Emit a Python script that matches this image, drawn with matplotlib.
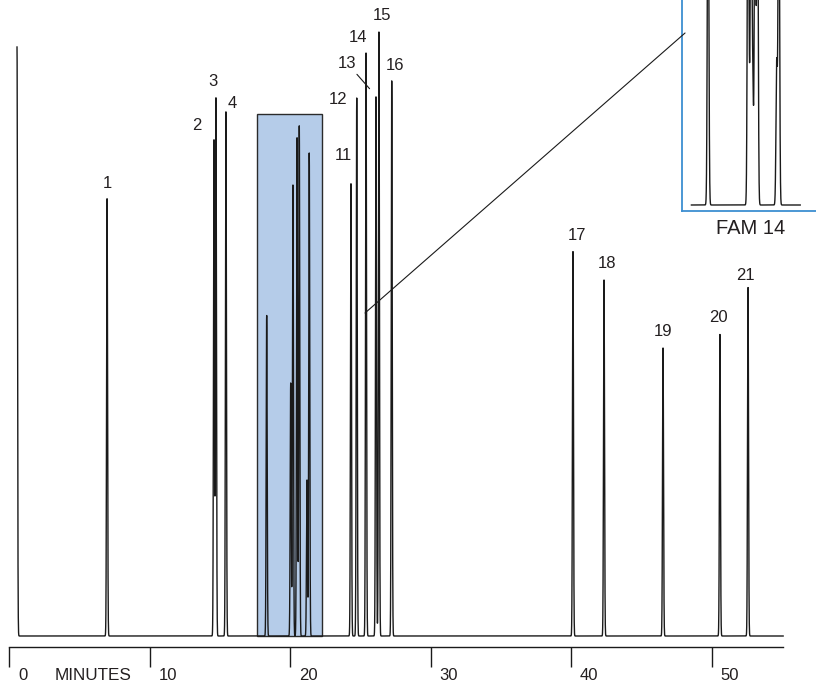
import numpy as np
import matplotlib
matplotlib.use("Agg")
import matplotlib.pyplot as plt
from matplotlib.patches import Rectangle, ConnectionPatch
from matplotlib.transforms import ScaledTranslation

# Numbered peaks: retention time (min) and detector response (arb. units)
peak_labels = ["1", "2", "3", "4", "11", "12", "13", "14", "15", "16",
               "17", "18", "19", "20", "21"]
peak_times = [6.98, 14.59, 14.73, 15.44, 24.34, 24.75, 26.12, 25.41, 26.33,
              27.24, 40.14, 42.35, 46.55, 50.60, 52.60]
peak_heights = [438, 496, 538, 525, 453, 538, 540, 583, 604, 556,
                385, 356, 288, 302, 349]

# Unlabelled peaks: solvent front and the FAM 14 cluster
other_times = [0.57, 18.34, 20.05, 20.21, 20.50, 20.66, 21.21, 21.37]
other_heights = [589, 321, 253, 451, 499, 511, 156, 483]

# FAM 14 detail (inset), its own vertical scale
inset_times = [18.36, 20.06, 20.12, 20.19, 20.26, 20.36, 20.46, 21.28, 21.37]
inset_heights = [400, 400, 67, 400, 120, 400, 400, 142, 400]

# Highlighted window (min) and the time axis
zoom_window = (17.65, 22.28)
zoom_top = 522
run_start = 0.57
run_end = 55.1
tick_minutes = [0, 10, 20, 30, 40, 50]

# Label offsets (pixels) from the peak apex
label_offsets = [(0, 15), (-17, 14), (-3, 17), (6, 7), (-8, 27), (-19, -1),
                 (-29, 33), (-8, 15), (3, 16), (3, 14), (4, 15), (3, 16),
                 (0, 17), (-1, 17), (-3, 12)]

TXT = "#231f20"
LINE = "#1a1a1a"
plt.rcParams["font.family"] = ["Liberation Sans", "DejaVu Sans"]


def trace(t, times, heights, sigma):
    """Sum of narrow gaussian peaks on a flat baseline"""
    sig = np.zeros_like(t)
    for ti, hi in zip(times, heights):
        sig += hi * np.exp(-0.5 * ((t - ti) / sigma) ** 2)
    return sig


px_per_min = 14.05
fig = plt.figure(figsize=(8.16, 6.84), dpi=100)
ax = fig.add_axes([0, 0, 1, 1])
ax.set_xlim(-9 / px_per_min, (816 - 9) / px_per_min)
ax.set_ylim(-48, 636)
ax.patch.set_alpha(0)

t = np.arange(run_start, run_end, 0.004)
sig = trace(t, peak_times + other_times, peak_heights + other_heights, 0.035)

ax.add_patch(Rectangle((zoom_window[0], 0), zoom_window[1] - zoom_window[0],
                       zoom_top, facecolor="#b5cce9", edgecolor="#2b2b2b",
                       lw=1.0, zorder=1))
ax.plot(t, sig, color=LINE, lw=1.0, zorder=2)

for lbl, ti, hi, off in zip(peak_labels, peak_times, peak_heights, label_offsets):
    kw = {}
    if lbl == "13":
        kw["arrowprops"] = dict(arrowstyle="-", color=LINE, lw=0.8,
                                shrinkA=1, shrinkB=7)
    ax.annotate(lbl, xy=(ti, hi), xytext=off, textcoords="offset pixels",
                ha="center", va="center", fontsize=12, color=TXT, **kw)

# time axis
for side in ["top", "right", "left"]:
    ax.spines[side].set_visible(False)
ax.spines["bottom"].set_position(("data", -11))
ax.spines["bottom"].set_bounds(0, run_end)
ax.spines["bottom"].set_linewidth(1.0)
ax.spines["bottom"].set_color(LINE)
ax.set_yticks([])
ax.set_xticks(tick_minutes)
ax.set_xticklabels([str(m) for m in tick_minutes])
ax.tick_params(axis="x", direction="out", length=14.4, width=1.0,
               color=LINE, labelsize=12, labelcolor=TXT, pad=1)
shift = ScaledTranslation(9 / 100, 0, fig.dpi_scale_trans)
for lab in ax.get_xticklabels():
    lab.set_horizontalalignment("left")
    lab.set_transform(lab.get_transform() + shift)
ax.text(3.27, -32, "MINUTES", ha="left", va="top", fontsize=12.3, color=TXT)

# FAM 14 inset
ins = fig.add_axes([682 / 816, 1 - 211 / 684, 150 / 816, 231 / 684])
ins.set_xlim(17.25, 17.25 + 150 / 23.5)
ins.set_ylim(-6, 225)
ti = np.arange(zoom_window[0], zoom_window[1], 0.002)
ins.plot(ti, trace(ti, inset_times, inset_heights, 0.03), color=LINE, lw=1.0)
for side in ["top", "right"]:
    ins.spines[side].set_visible(False)
for side in ["left", "bottom"]:
    ins.spines[side].set_color("#3d8fd1")
    ins.spines[side].set_linewidth(1.3)
ins.set_xticks([])
ins.set_yticks([])
ins.text(0.46, -0.074, "FAM 14", transform=ins.transAxes, ha="center",
         va="center", fontsize=14.5, color=TXT)

con = ConnectionPatch(xyA=(25.34, 323), coordsA=ax.transData,
                      xyB=(17.38, 172), coordsB=ins.transData,
                      color=LINE, lw=0.8)
fig.add_artist(con)

fig.savefig("out.png", dpi=100, facecolor="white")
